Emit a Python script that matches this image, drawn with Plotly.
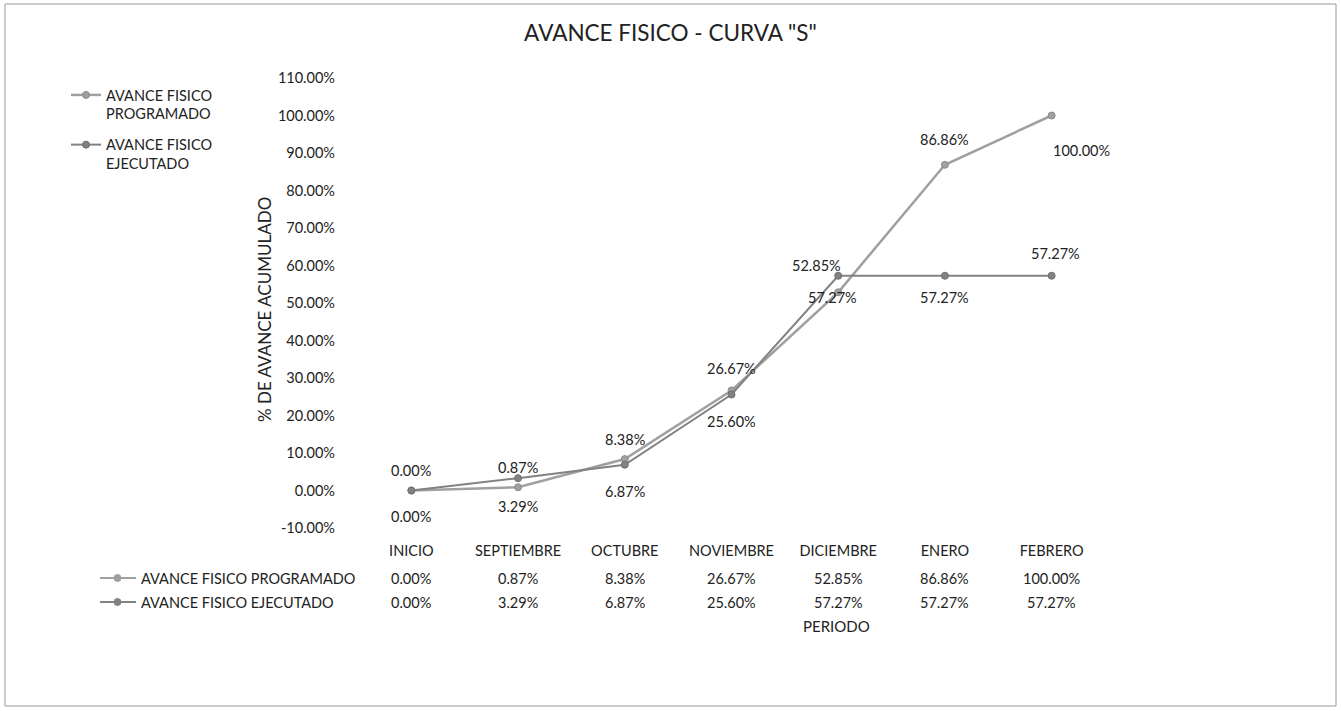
import plotly.graph_objects as go

categories = ["INICIO", "SEPTIEMBRE", "OCTUBRE", "NOVIEMBRE", "DICIEMBRE", "ENERO", "FEBRERO"]
programado = [0.00, 0.87, 8.38, 26.67, 52.85, 86.86, 100.00]
ejecutado = [0.00, 3.29, 6.87, 25.60, 57.27, 57.27, 57.27]
y_ticks = [-10, 0, 10, 20, 30, 40, 50, 60, 70, 80, 90, 100, 110]
series_names = ["AVANCE FISICO PROGRAMADO", "AVANCE FISICO EJECUTADO"]

W, H = 1341, 711
L, R, T, B = 358, 1105, 78, 528
FONT = "Lato"
TXT = "#222222"
C_PROG = "#a0a0a0"
C_EJEC = "#828282"
FS = 14.5


def px(x):
    return (x - L) / (R - L)


def py(y):
    return (B - y) / (B - T)


fig = go.Figure()
fig.add_trace(go.Scatter(
    x=categories, y=programado, mode="lines+markers",
    name="AVANCE FISICO<br>PROGRAMADO", legendgroup="p",
    line=dict(color=C_PROG, width=2.5),
    marker=dict(size=7, color=C_PROG, line=dict(color="#8c8c8c", width=1)),
))
fig.add_trace(go.Scatter(
    x=categories, y=ejecutado, mode="lines+markers",
    name="AVANCE FISICO<br>EJECUTADO", legendgroup="e",
    line=dict(color=C_EJEC, width=2),
    marker=dict(size=7, color=C_EJEC, line=dict(color="#6f6f6f", width=1)),
))

annotations = []
# data labels (offsets in px)
prog_off = [(0, 20), (0, 20), (0, 20), (0, 22), (-22, 27), (0, 25), (30, -35)]
ejec_off = [(0, -26), (0, -28), (0, -27), (0, -27), (-6, -22), (0, -22), (4, 22)]
for series, offs in ((programado, prog_off), (ejecutado, ejec_off)):
    for c, v, (dx, dy) in zip(categories, series, offs):
        annotations.append(dict(
            x=c, y=v, xref="x", yref="y", text=f"{v:.2f}%", showarrow=False,
            xshift=dx, yshift=dy, font=dict(family=FONT, size=FS, color=TXT)))

# data table rows
row_y = [578, 602]
for series, ry in zip((programado, ejecutado), row_y):
    for c, v in zip(categories, series):
        annotations.append(dict(
            x=c, y=py(ry), xref="x", yref="paper", text=f"{v:.2f}%", showarrow=False,
            xanchor="center", yanchor="middle", font=dict(family=FONT, size=FS, color=TXT)))

shapes = []
for name, ry, col in zip(series_names, row_y, (C_PROG, C_EJEC)):
    annotations.append(dict(
        x=px(139), y=py(ry), xref="paper", yref="paper", text=name, showarrow=False,
        xanchor="left", yanchor="middle", font=dict(family=FONT, size=FS, color=TXT)))
    shapes.append(dict(type="line", xref="paper", yref="paper",
                       x0=px(100), x1=px(136), y0=py(ry), y1=py(ry),
                       line=dict(color=col, width=2)))
    shapes.append(dict(type="circle", xref="paper", yref="paper",
                       x0=px(114), x1=px(121), y0=py(ry + 3.5), y1=py(ry - 3.5),
                       fillcolor=col, line=dict(color=col, width=1)))

# axis titles
annotations.append(dict(
    x=px(264), y=py(310), xref="paper", yref="paper", text="% DE AVANCE ACUMULADO",
    textangle=-90, showarrow=False, xanchor="center", yanchor="middle",
    font=dict(family=FONT, size=17, color=TXT)))
annotations.append(dict(
    x=px(836), y=py(626), xref="paper", yref="paper", text="PERIODO",
    showarrow=False, xanchor="center", yanchor="middle", font=dict(family=FONT, size=15, color=TXT)))

# outer border
shapes.append(dict(type="rect", xref="paper", yref="paper",
                   x0=px(5), x1=px(1336), y0=py(706), y1=py(4),
                   line=dict(color="#9a9a9a", width=1), fillcolor="rgba(0,0,0,0)", layer="below"))

fig.update_layout(
    width=W, height=H,
    margin=dict(l=L, r=W - R, t=T, b=H - B, autoexpand=False),
    paper_bgcolor="white", plot_bgcolor="white",
    font=dict(family=FONT, color=TXT, size=FS),
    title=dict(text='AVANCE FISICO - CURVA "S"', x=0.5, xref="container", xanchor="center",
               y=1 - 33 / H, yref="container", yanchor="middle",
               font=dict(family=FONT, size=22.5, color=TXT)),
    showlegend=True,
    legend=dict(x=px(66), y=py(79), xanchor="left", yanchor="top",
                valign="top", font=dict(family=FONT, size=FS, color=TXT),
                traceorder="grouped", tracegroupgap=9,
                bgcolor="rgba(0,0,0,0)", itemwidth=30),
    annotations=annotations,
    shapes=shapes,
)
fig.update_xaxes(type="category", range=[-0.5, 6.5], showgrid=False, zeroline=False,
                 showline=False, ticks="", ticklabelstandoff=12,
                 tickfont=dict(family=FONT, size=FS, color=TXT))
fig.update_yaxes(range=[-10, 110], tickvals=y_ticks,
                 ticktext=[f"{v:.2f}%" for v in y_ticks],
                 showgrid=False, zeroline=False, showline=False, ticks="",
                 ticklabelstandoff=22, tickfont=dict(family=FONT, size=FS, color=TXT))

fig.write_html("out.html", config={"displayModeBar": False},
               post_script="document.body.style.margin='0px';")
